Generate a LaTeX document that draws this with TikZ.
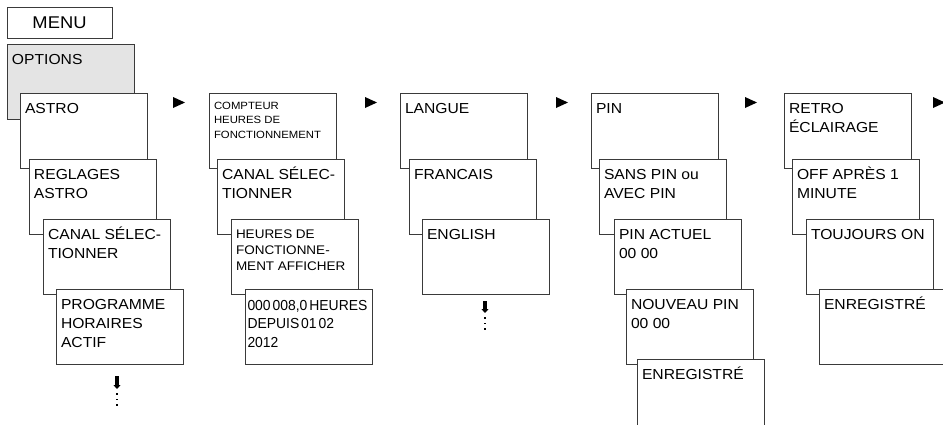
\documentclass[tikz,border=0pt]{standalone}
\usepackage{fontspec}
\setmainfont{Liberation Sans}[FakeStretch=1.08]
\newfontfamily\plainfont{Liberation Sans}[WordSpace=0.5,FakeStretch=0.96]
\usetikzlibrary{arrows.meta}
\definecolor{linegray}{HTML}{3A3A3A}
\definecolor{optgray}{HTML}{E4E4E4}
\newcommand{\scrtxt}[2][20pt]{\parbox[t][75pt][t]{117pt}{\raggedright\rule{0pt}{#1}#2}}
\tikzset{
  scr/.style={draw=linegray, line width=0.9pt, fill=white, anchor=north west,
    inner xsep=5pt, inner ysep=0pt, outer sep=0pt,
    font=\fontsize{14.5}{19}\selectfont},
  smalltxt/.style={font=\fontsize{10.5}{14.5}\selectfont},
  midtxt/.style={font=\fontsize{12.5}{16}\selectfont},
  nextarrow/.style={fill=black},
  downarrow/.style={line width=4.5pt, -{Triangle[width=7pt,length=4pt]}},
}
\newcommand{\nexttri}[2]{\fill[nextarrow] (#1,#2-5.5) -- (#1+12,#2) -- (#1,#2+5.5) -- cycle;}
\newcommand{\vdotsat}[2]{\foreach \k in {0,5.5,11} {\fill (#1-0.8,#2+\k-0.8) rectangle (#1+0.8,#2+\k+0.8);}}
\begin{document}
\begin{tikzpicture}[x=1pt,y=-1pt]
\useasboundingbox (0,0) rectangle (943,424);
\clip (0,0) rectangle (943,424);
\fill[white] (0,0) rectangle (943,424);

% MENU
\node[scr, anchor=north west, minimum width=105pt, minimum height=31pt, inner xsep=0pt, font=\fontsize{17}{20}\selectfont] (menu) at (7,7) {\raisebox{-1pt}{MENU}};

% Column 1
\node[scr, fill=optgray] (options) at (7,44) {\scrtxt{OPTIONS}};
\node[scr] (astro) at (20,93) {\scrtxt{ASTRO}};
\node[scr] (reglages) at (29,159) {\scrtxt{REGLAGES\\ASTRO}};
\node[scr] (canala) at (43,219) {\scrtxt{CANAL SÉLEC-\\TIONNER}};
\node[scr] (prog) at (56,289) {\scrtxt{PROGRAMME\\HORAIRES\\ACTIF}};
\coordinate (downa) at (117,376);
\draw[downarrow] (downa) -- ++(0,13);
\vdotsat{117}{394}

% Column 2
\node[scr, smalltxt] (compteur) at (209,93) {\scrtxt[16pt]{COMPTEUR\\HEURES DE\\FONCTIONNEMENT}};
\node[scr] (canalb) at (217,159) {\scrtxt{CANAL SÉLEC-\\TIONNER}};
\node[scr, midtxt] (heures) at (231,219) {\scrtxt[19pt]{HEURES DE\\FONCTIONNE-\\MENT AFFICHER}};
\node[scr, inner xsep=2.5pt, font=\fontsize{14.5}{18.5}\selectfont\plainfont] (depuis) at (245,289) {\parbox[t][75pt][t]{122pt}{\raggedright\rule{0pt}{21pt}\mbox{000 008,0 HEURES}\\DEPUIS 01 02\\2012}};

% Column 3
\node[scr] (langue) at (400,93) {\scrtxt{LANGUE}};
\node[scr] (francais) at (409,159) {\scrtxt{FRANCAIS}};
\node[scr] (english) at (422,219) {\scrtxt{ENGLISH}};
\coordinate (downb) at (485,301);
\draw[downarrow] (downb) -- ++(0,12);
\vdotsat{485}{318}

% Column 4
\node[scr] (pin) at (591,93) {\scrtxt{PIN}};
\node[scr] (sans) at (599,159) {\scrtxt{SANS PIN ou\\AVEC PIN}};
\node[scr] (actuel) at (614,219) {\scrtxt{PIN ACTUEL\\00 00}};
\node[scr] (nouveau) at (626,289) {\scrtxt{NOUVEAU PIN\\00 00}};
\node[scr] (enrega) at (637,359) {\scrtxt{ENREGISTRÉ}};

% Column 5
\node[scr] (retro) at (784,93) {\scrtxt{RETRO\\ÉCLAIRAGE}};
\node[scr] (off) at (792,159) {\scrtxt{OFF APRÈS 1\\MINUTE}};
\node[scr] (toujours) at (806,219) {\scrtxt{TOUJOURS ON}};
\node[scr] (enregb) at (819,289) {\scrtxt{ENREGISTRÉ}};

% next-page triangles
\nexttri{173}{102.5}
\nexttri{365}{102.5}
\nexttri{556}{102.5}
\nexttri{745}{102.5}
\nexttri{933}{102.5}
\end{tikzpicture}
\end{document}
